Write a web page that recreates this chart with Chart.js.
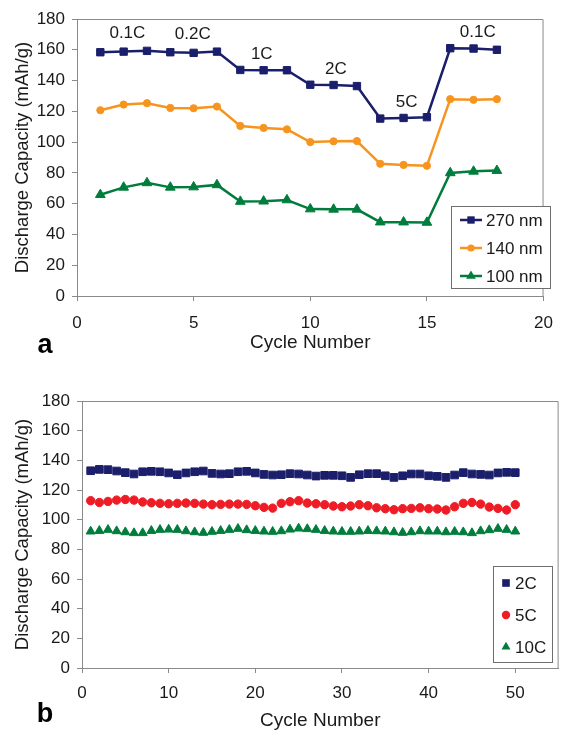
<!DOCTYPE html>
<html><head><meta charset="utf-8">
<script src="https://cdn.jsdelivr.net/npm/chart.js@4.4.1/dist/chart.umd.min.js"></script>
<style>
html,body{margin:0;padding:0;background:#fff;overflow:hidden;width:565px;height:734px}
#wa{position:absolute;left:0;top:0;width:565px;height:360px}
#wb{position:absolute;left:0;top:360px;width:565px;height:374px}
canvas{display:block}
</style></head><body>
<div id="wa"><canvas id="ca" width="565" height="360"></canvas></div>
<div id="wb"><canvas id="cb" width="565" height="374"></canvas></div>
<script>
// ---------- data: panel a ----------
const cyclesA = [1,2,3,4,5,6,7,8,9,10,11,12,13,14,15,16,17,18];
const cap270 = [158.4,158.8,159.3,158.4,158.0,158.8,146.9,146.7,146.7,137.3,137.1,136.4,115.3,115.7,116.2,161.0,160.8,160.0];
const cap140 = [120.7,124.4,125.3,122.2,122.0,123.1,110.5,109.2,108.3,100.0,100.5,100.7,85.9,85.2,84.6,127.9,127.5,127.9];
const cap100 = [65.8,70.6,73.5,70.6,70.8,72.2,61.4,61.6,62.4,56.5,56.3,56.3,48.0,48.0,47.8,80.0,81.0,81.5];
const seriesNamesA = ['270 nm','140 nm','100 nm'];
const rateLabels = ['0.1C','0.2C','1C','2C','5C','0.1C'];
const rateLabelCycle = [2.16,4.96,7.92,11.1,14.13,17.18];
const rateLabelCap = [170.7,170.0,157.0,147.2,125.7,171.2];
const xTicksA = [0,5,10,15,20];

// ---------- data: panel b ----------
const cyclesB = [1,2,3,4,5,6,7,8,9,10,11,12,13,14,15,16,17,18,19,20,21,22,23,24,25,26,27,28,29,30,31,32,33,34,35,36,37,38,39,40,41,42,43,44,45,46,47,48,49,50];
const cap2C = [133.0,133.9,133.7,132.8,131.7,130.8,132.3,132.6,132.3,131.5,130.3,131.5,132.3,132.8,131.2,130.8,131.0,132.3,132.6,131.5,130.5,130.1,130.3,131.0,130.8,130.1,129.4,129.9,129.9,129.6,128.5,130.3,131.0,131.0,129.6,128.5,129.6,130.8,130.8,129.6,129.2,128.5,130.1,131.7,130.8,130.5,130.1,131.5,131.9,131.7];
const cap5C = [112.8,111.6,112.3,113.2,113.6,113.2,111.9,111.4,111.0,110.7,111.0,111.2,111.0,110.5,110.1,110.3,110.5,110.5,110.3,109.4,108.3,107.8,111.0,112.1,112.8,111.2,110.7,110.1,109.2,108.7,109.2,110.1,109.4,108.0,107.4,106.7,107.4,107.6,108.0,107.4,107.2,106.5,108.7,111.0,111.6,110.5,108.5,107.6,106.5,110.1];
const cap10C = [92.1,92.5,93.2,92.3,91.6,91.0,91.0,92.5,93.2,93.4,93.2,92.3,91.6,91.2,91.9,92.5,93.2,93.9,93.0,92.5,92.1,91.9,92.3,93.4,94.1,93.7,93.2,92.5,92.1,91.9,91.9,92.1,92.5,92.3,92.1,91.6,91.2,91.6,92.3,92.1,92.1,91.6,91.9,91.6,91.0,92.3,93.0,93.9,93.2,92.1];
const seriesNamesB = ['2C','5C','10C'];
const xTicksB = [0,10,20,30,40,50];

const yTicks = [0,20,40,60,80,100,120,140,160,180];

// ---------- styling ----------
const FONT = "'Liberation Sans', Arial, Helvetica, sans-serif";
const TXT = '#1a1a1a';
const AX = '#8a8a8a';
const NAVY = '#1b1f6b', ORANGE = '#f7941d', GREEN = '#007d3c', RED = '#ee1c25';

Chart.defaults.font.family = FONT;
Chart.defaults.color = TXT;

function pts(xs, ys){ return xs.map((x,i)=>({x:x, y:ys[i]})); }

function drawMarker(ctx, style, x, y, r, color){
  ctx.fillStyle = color; ctx.beginPath();
  if (style === 'rect'){ const s = r*Math.SQRT1_2; ctx.rect(x-s, y-s, 2*s, 2*s); }
  else if (style === 'circle'){ ctx.arc(x, y, r, 0, Math.PI*2); }
  else { const a = 2*Math.PI/3; ctx.moveTo(x, y-r); ctx.lineTo(x+r*Math.sin(a), y-r*Math.cos(a)); ctx.lineTo(x-r*Math.sin(a), y-r*Math.cos(a)); ctx.closePath(); }
  ctx.fill();
}

const framePlugin = {
  id:'frame',
  beforeDatasetsDraw(chart){
    const {ctx, chartArea:a} = chart;
    ctx.save(); ctx.strokeStyle = AX; ctx.lineWidth = 1;
    ctx.beginPath(); ctx.moveTo(a.left, a.top+0.5); ctx.lineTo(a.right-0.5, a.top+0.5); ctx.lineTo(a.right-0.5, a.bottom); ctx.stroke();
    ctx.restore();
  }
};

const boxLegend = {
  id:'boxLegend',
  afterDraw(chart, args, o){
    const ctx = chart.ctx;
    ctx.save();
    ctx.fillStyle = '#fff'; ctx.fillRect(o.x, o.y, o.w, o.h);
    ctx.strokeStyle = '#6e6e6e'; ctx.lineWidth = 1; ctx.strokeRect(o.x+0.5, o.y+0.5, o.w, o.h);
    ctx.font = o.font + 'px ' + FONT; ctx.textBaseline = 'middle'; ctx.textAlign = 'left';
    chart.data.datasets.forEach((ds, i) => {
      const cy = o.y + o.rowY[i];
      if (o.line){
        ctx.strokeStyle = ds.borderColor; ctx.lineWidth = 2.5;
        ctx.beginPath(); ctx.moveTo(o.x + o.lineX0, cy); ctx.lineTo(o.x + o.lineX1, cy); ctx.stroke();
      }
      drawMarker(ctx, ds.pointStyle, o.x + o.markX, cy, ds.pointRadius, ds.pointBackgroundColor);
      ctx.fillStyle = TXT; ctx.fillText(ds.label, o.x + o.textX, cy + 1);
    });
    ctx.restore();
  }
};

const panelLetter = {
  id:'panelLetter',
  afterDraw(chart, args, o){
    const ctx = chart.ctx; ctx.save();
    ctx.font = 'bold 27px ' + FONT; ctx.fillStyle = '#000'; ctx.textAlign = 'center'; ctx.textBaseline = 'middle';
    ctx.fillText(o.text, o.x, o.y); ctx.restore();
  }
};

const rateText = {
  id:'rateText',
  afterDatasetsDraw(chart){
    const ctx = chart.ctx, xs = chart.scales.x, ys = chart.scales.y;
    ctx.save(); ctx.font = '17px ' + FONT; ctx.fillStyle = TXT; ctx.textAlign = 'center'; ctx.textBaseline = 'middle';
    rateLabels.forEach((t,i)=> ctx.fillText(t, xs.getPixelForValue(rateLabelCycle[i]), ys.getPixelForValue(rateLabelCap[i])));
    ctx.restore();
  }
};

function scales(xMax, xTicks, leftW, bottomH, titleBottomPad, xTickPad){
  return {
    x: {
      type:'linear', min:0, max:xMax,
      afterBuildTicks: s => { s.ticks = xTicks.map(v=>({value:v})); },
      afterFit: s => { s.height = bottomH; },
      grid: { drawOnChartArea:false, drawTicks:true, tickLength:5, color:AX },
      border: { display:true, color:AX, width:1 },
      ticks: { font:{size:17}, color:TXT, padding:xTickPad, maxRotation:0, autoSkip:false },
      title: { display:true, text:'Cycle Number', font:{size:19, lineHeight:1}, color:TXT, padding:{top:0, bottom:titleBottomPad} }
    },
    y: {
      type:'linear', min:0, max:180,
      afterBuildTicks: s => { s.ticks = yTicks.map(v=>({value:v})); },
      afterFit: s => { s.width = leftW; },
      grid: { drawOnChartArea:false, drawTicks:true, tickLength:5, color:AX },
      border: { display:true, color:AX, width:1 },
      ticks: { font:{size:17}, color:TXT, padding:7 },
      title: { display:true, text:'Discharge Capacity (mAh/g)', font:{size:18.5, lineHeight:1}, color:TXT, padding:{top:14, bottom:0} }
    }
  };
}

function ds(label, xs, ys, color, style, r, line){
  return { label, data: pts(xs, ys), borderColor: color, backgroundColor: color, borderWidth: line ? 2.5 : 0,
    showLine: line, tension: 0, pointStyle: style, pointRadius: r, pointHoverRadius: r,
    pointBackgroundColor: color, pointBorderColor: color, pointBorderWidth: 1 };
}

new Chart(document.getElementById('ca'), {
  type:'scatter',
  data:{ datasets:[
    ds(seriesNamesA[0], cyclesA, cap270, NAVY, 'rect', 5.2, true),
    ds(seriesNamesA[1], cyclesA, cap140, ORANGE, 'circle', 3.6, true),
    ds(seriesNamesA[2], cyclesA, cap100, GREEN, 'triangle', 5.6, true)
  ]},
  options:{
    responsive:false, animation:false, devicePixelRatio:1,
    layout:{ padding:{ top:19, right:11, left:0, bottom:0 } },
    scales: scales(20, xTicksA, 77, 64, 8, 12),
    plugins:{ legend:{display:false}, tooltip:{enabled:false},
      boxLegend:{ x:451, y:206, w:99, h:82, rowY:[14,42,70], lineX0:9, lineX1:31, markX:20, textX:35, font:17, line:true },
      panelLetter:{ text:'a', x:45, y:346 } }
  },
  plugins:[framePlugin, rateText, boxLegend, panelLetter]
});

new Chart(document.getElementById('cb'), {
  type:'scatter',
  data:{ datasets:[
    ds(seriesNamesB[0], cyclesB, cap2C, NAVY, 'rect', 5.4, false),
    ds(seriesNamesB[1], cyclesB, cap5C, RED, 'circle', 4.2, false),
    ds(seriesNamesB[2], cyclesB, cap10C, GREEN, 'triangle', 5.2, false)
  ]},
  options:{
    responsive:false, animation:false, devicePixelRatio:1,
    layout:{ padding:{ top:41, right:6, left:0, bottom:0 } },
    scales: scales(55, xTicksB, 82, 66, 4, 10),
    plugins:{ legend:{display:false}, tooltip:{enabled:false},
      boxLegend:{ x:493, y:206, w:59, h:96, rowY:[17,49,81], markX:13, textX:22, font:17, line:false },
      panelLetter:{ text:'b', x:45, y:355 } }
  },
  plugins:[framePlugin, boxLegend, panelLetter]
});
</script>
</body></html>
